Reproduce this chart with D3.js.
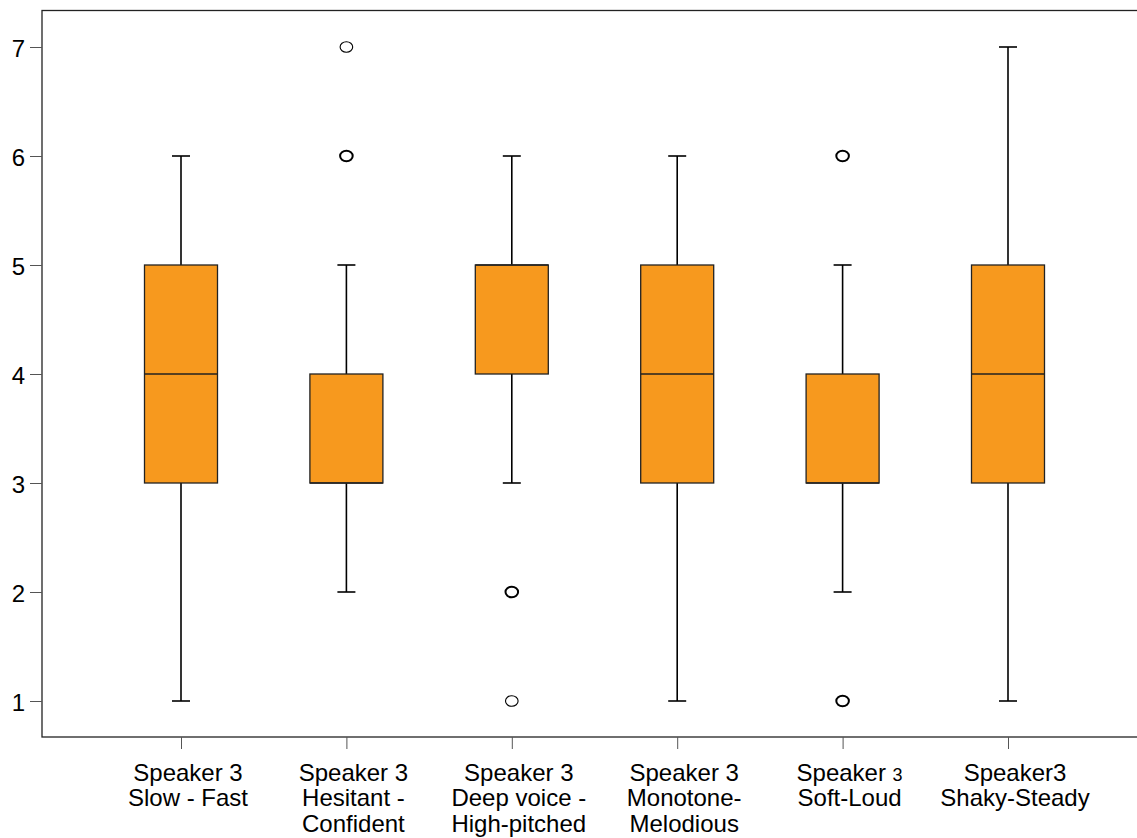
<!DOCTYPE html>
<html>
<head>
<meta charset="utf-8">
<script src="https://cdn.jsdelivr.net/npm/d3@7"></script>
<style>
  html, body { margin: 0; padding: 0; background: #fff; }
  svg { display: block; }
  text { font-family: "Liberation Sans", Arial, sans-serif; fill: #000; }
</style>
</head>
<body>
<svg id="chart" width="1137" height="838"></svg>
<script>
// Category keys and their multi-line axis labels
const categories = ["slowFast", "hesitantConfident", "deepHigh", "monotoneMelodious", "softLoud", "shakySteady"];
const labelLines = [
  ["Speaker 3", "Slow - Fast"],
  ["Speaker 3", "Hesitant -", "Confident"],
  ["Speaker 3", "Deep voice -", "High-pitched"],
  ["Speaker 3", "Monotone-", "Melodious"],
  ["Speaker |3", "Soft-Loud"],
  ["Speaker3", "Shaky-Steady"]
];

// Five-number summaries per category
const whiskerLow  = [1, 2, 3, 1, 2, 1];
const quartile1   = [3, 3, 4, 3, 3, 3];
const medians     = [4, 3, 5, 4, 3, 4];
const quartile3   = [5, 4, 5, 5, 4, 5];
const whiskerHigh = [6, 5, 6, 6, 5, 7];

// Outliers: [category index, value, number of coinciding responses]
const outliers = [
  [1, 7, 1], [1, 6, 2],
  [2, 2, 2], [2, 1, 1],
  [4, 6, 2], [4, 1, 2]
];

const yTicks = [1, 2, 3, 4, 5, 6, 7];

const svg = d3.select("#chart");
const frame = { left: 42, top: 10.5, right: 1140, bottom: 737 };

const x = d3.scalePoint().domain(categories).range([181, 1008]);
const y = d3.scaleLinear().domain([1, 7]).range([701, 47]);

const boxWidth = 73;
const capWidth = 18;
const fillColor = "#f7991e";

// Plot frame
svg.append("rect")
  .attr("x", frame.left).attr("y", frame.top)
  .attr("width", frame.right - frame.left)
  .attr("height", frame.bottom - frame.top)
  .attr("fill", "none").attr("stroke", "#222").attr("stroke-width", 1.3);

// Y axis
const yAxis = svg.append("g")
  .attr("transform", `translate(${frame.left},0)`)
  .call(d3.axisLeft(y).tickValues(yTicks).tickFormat(d3.format("d")).tickSize(12).tickPadding(5));
yAxis.select(".domain").remove();
yAxis.selectAll(".tick line").attr("stroke", "#555").attr("stroke-width", 1);
yAxis.selectAll(".tick text")
  .style("font-family", "'Liberation Sans', Arial, sans-serif")
  .style("font-size", "24px").attr("fill", "#000").attr("dy", "0.4em");

// X axis ticks
const xAxis = svg.append("g")
  .attr("transform", `translate(0,${frame.bottom})`)
  .call(d3.axisBottom(x).tickSize(12).tickFormat(""));
xAxis.select(".domain").remove();
xAxis.selectAll(".tick line").attr("stroke", "#555").attr("stroke-width", 1);

// Multi-line category labels
const labels = svg.append("g");
categories.forEach((c, i) => {
  const t = labels.append("text")
    .attr("text-anchor", "middle")
    .style("font-size", "24px");
  labelLines[i].forEach((line, j) => {
    const ts = t.append("tspan")
      .attr("x", x(c) + 7)
      .attr("y", 780.5 + j * 25.5);
    if (line.includes("|")) {
      const [a, b] = line.split("|");
      ts.text(a);
      t.append("tspan").style("font-size", "18px").text(b);
    } else {
      ts.text(line);
    }
  });
});

// Boxes
const boxes = svg.append("g");
categories.forEach((c, i) => {
  const cx = x(c);
  const g = boxes.append("g");
  g.append("line")
    .attr("x1", cx).attr("x2", cx)
    .attr("y1", y(whiskerLow[i])).attr("y2", y(quartile1[i]))
    .attr("stroke", "#000").attr("stroke-width", 1.6);
  g.append("line")
    .attr("x1", cx).attr("x2", cx)
    .attr("y1", y(whiskerHigh[i])).attr("y2", y(quartile3[i]))
    .attr("stroke", "#000").attr("stroke-width", 1.6);
  [whiskerLow[i], whiskerHigh[i]].forEach(v => {
    g.append("line")
      .attr("x1", cx - capWidth / 2).attr("x2", cx + capWidth / 2)
      .attr("y1", y(v)).attr("y2", y(v))
      .attr("stroke", "#000").attr("stroke-width", 1.6);
  });
  g.append("rect")
    .attr("x", cx - boxWidth / 2).attr("width", boxWidth)
    .attr("y", y(quartile3[i])).attr("height", y(quartile1[i]) - y(quartile3[i]))
    .attr("fill", fillColor).attr("stroke", "#222").attr("stroke-width", 1.3);
  g.append("line")
    .attr("x1", cx - boxWidth / 2).attr("x2", cx + boxWidth / 2)
    .attr("y1", y(medians[i])).attr("y2", y(medians[i]))
    .attr("stroke", "#222").attr("stroke-width", 1.3);
});

// Outlier markers (heavier stroke where responses coincide)
svg.append("g").selectAll("ellipse")
  .data(outliers)
  .join("ellipse")
  .attr("cx", d => x(categories[d[0]]))
  .attr("cy", d => y(d[1]))
  .attr("rx", 6.3).attr("ry", 5.3)
  .attr("fill", "#fff")
  .attr("stroke", "#000")
  .attr("stroke-width", d => d[2] > 1 ? 2 : 1.1);
</script>
</body>
</html>
